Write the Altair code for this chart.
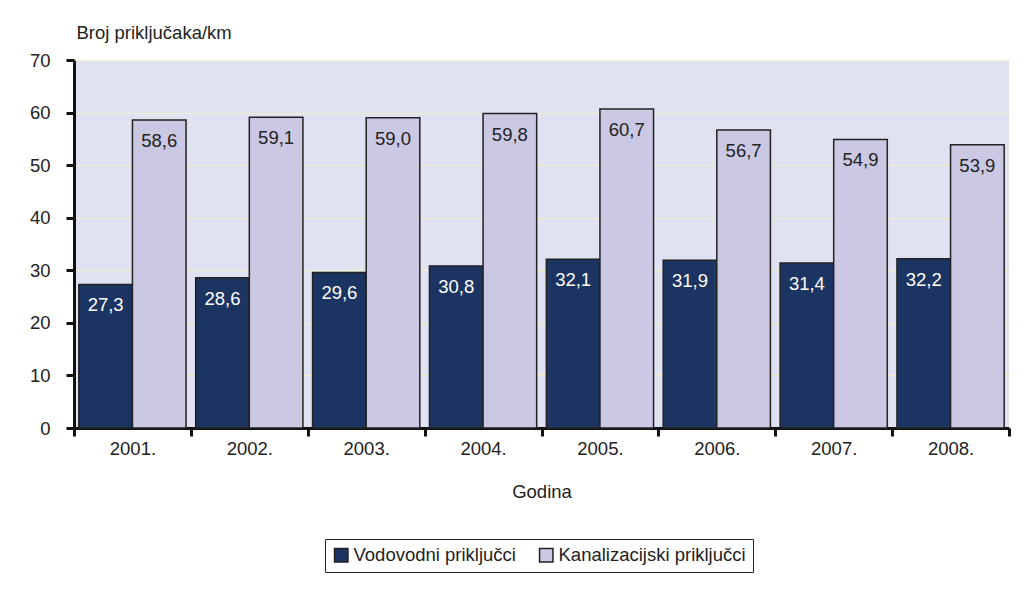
import altair as alt
import pandas as pd

years = ["2001.", "2002.", "2003.", "2004.", "2005.", "2006.", "2007.", "2008."]
vodovodni = [27.3, 28.6, 29.6, 30.8, 32.1, 31.9, 31.4, 32.2]
kanalizacijski = [58.6, 59.1, 59.0, 59.8, 60.7, 56.7, 54.9, 53.9]
series_names = ["Vodovodni priključci", "Kanalizacijski priključci"]

rows = []
for i, y in enumerate(years):
    rows.append({"year": y, "series": series_names[0], "value": vodovodni[i]})
    rows.append({"year": y, "series": series_names[1], "value": kanalizacijski[i]})
df = pd.DataFrame(rows)

FONT = "Liberation Sans"
FS = 18.5
DARK = "#1c3461"
LIGHT = "#cbc8e4"

x = alt.X("year:N", sort=years,
          scale=alt.Scale(paddingInner=0, paddingOuter=0),
          axis=alt.Axis(title="Godina", labelAngle=0, tickBand="extent",
                        labelFontSize=FS, labelColor="#222", labelPadding=3,
                        titleFontSize=FS, titleFontWeight="normal", titleColor="#222",
                        titlePadding=25,
                        domainColor="#111", domainWidth=3, tickColor="#111",
                        tickWidth=3, tickSize=8))
xoff = alt.XOffset("series:N", sort=series_names,
                   scale=alt.Scale(domain=series_names, paddingInner=0, paddingOuter=0.09))
y = alt.Y("value:Q", scale=alt.Scale(domain=[0, 70], nice=False),
          axis=alt.Axis(values=[0, 10, 20, 30, 40, 50, 60, 70], title="Broj priključaka/km",
                        titleAngle=0, titleAlign="left", titleBaseline="middle",
                        titleX=2, titleY=-28, titleFontSize=FS, titleFontWeight="normal",
                        titleColor="#222", labelFontSize=FS, labelColor="#222",
                        labelPadding=16, grid=True, gridColor="#f4f0c4", gridWidth=1.2,
                        domainColor="#111", domainWidth=3, tickColor="#111",
                        tickWidth=3, tickSize=8))

color = alt.Color("series:N", sort=series_names,
                  scale=alt.Scale(domain=series_names, range=[DARK, LIGHT]),
                  legend=alt.Legend(title=None, orient="none", direction="horizontal",
                                    legendX=251, legendY=479,
                                    strokeColor="#222", padding=7,
                                    labelFontSize=FS, labelColor="#222", labelLimit=300,
                                    symbolType="square", symbolSize=180,
                                    symbolStrokeColor="#222", symbolStrokeWidth=1.5,
                                    columnPadding=20, labelOffset=3))

bars = alt.Chart(df).mark_bar(stroke="#222", strokeWidth=1.5).encode(
    x=x, xOffset=xoff, y=y, color=color)

text = alt.Chart(df).transform_calculate(
    label="replace(format(datum.value, '.1f'), '.', ',')"
).mark_text(baseline="top", dy=12, fontSize=FS, font=FONT).encode(
    x=alt.X("year:N", sort=years),
    xOffset=alt.XOffset("series:N", sort=series_names),
    y=alt.Y("value:Q"),
    text="label:N",
    color=alt.Color("series:N", scale=alt.Scale(domain=series_names, range=["#ffffff", "#222222"]),
                    legend=None),
)

chart = alt.layer(bars, text).resolve_scale(color="independent").properties(
    width=935, height=368,
    autosize=alt.AutoSizeParams(type="none"),
    padding={"left": 66, "top": 52, "right": 10, "bottom": 158},
).configure(font=FONT).configure_view(fill="#dfe3f1", stroke=None)

chart.save("out.html", embed_options={"renderer": "svg", "actions": False})
